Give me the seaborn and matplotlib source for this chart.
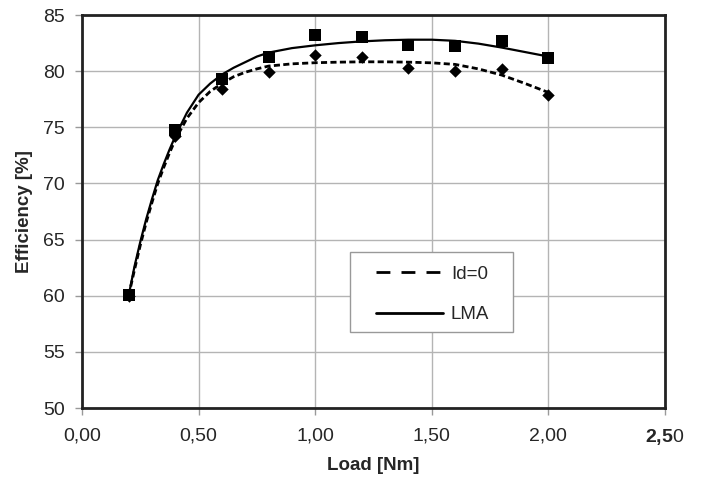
import numpy as np
import pandas as pd
import matplotlib
matplotlib.use("Agg")
import matplotlib.pyplot as plt
from matplotlib.patches import Rectangle
import seaborn as sns

# measured points
load_pts = [0.2, 0.4, 0.6, 0.8, 1.0, 1.2, 1.4, 1.6, 1.8, 2.0]
eff_lma = [60.1, 74.8, 79.3, 81.3, 83.2, 83.0, 82.3, 82.2, 82.7, 81.2]
eff_id0 = [60.0, 74.2, 78.4, 79.9, 81.4, 81.3, 80.3, 80.0, 80.2, 77.9]

# trend curves
curve_x = [0.200, 0.225, 0.250, 0.275, 0.300, 0.325, 0.350, 0.375, 0.400,
           0.450, 0.500, 0.550, 0.600, 0.650, 0.700, 0.750, 0.800, 0.900,
           1.000, 1.100, 1.200, 1.300, 1.400, 1.500, 1.600, 1.700, 1.800,
           1.900, 2.000]
curve_lma = [60.0, 62.6, 64.8, 66.8, 68.6, 70.3, 71.7, 73.0, 74.2,
             76.3, 77.9, 78.9, 79.7, 80.3, 80.8, 81.3, 81.65, 82.05,
             82.3, 82.5, 82.65, 82.75, 82.8, 82.8, 82.7, 82.45, 82.1,
             81.7, 81.3]
curve_id0 = [60.0, 62.3, 64.5, 66.5, 68.3, 70.0, 71.4, 72.7, 73.9,
             75.8, 77.2, 78.2, 78.9, 79.5, 79.9, 80.2, 80.45, 80.65,
             80.75, 80.8, 80.83, 80.83, 80.8, 80.74, 80.6, 80.2, 79.65,
             78.9, 78.1]

x_ticks = [0.0, 0.5, 1.0, 1.5, 2.0, 2.5]
x_ticklabels = ["0,00", "0,50", "1,00", "1,50", "2,00", r"$\mathbf{2{,}5}$0"]
y_ticks = [50, 55, 60, 65, 70, 75, 80, 85]

sns.set_style("whitegrid")
plt.rcParams["font.family"] = ["Liberation Sans", "DejaVu Sans"]
plt.rcParams["mathtext.fontset"] = "custom"
plt.rcParams["mathtext.rm"] = "Liberation Sans"
plt.rcParams["mathtext.bf"] = "Liberation Sans:bold"

fig = plt.figure(figsize=(7.02, 4.82), dpi=100)
ax = fig.add_axes([82 / 702, 1 - 408 / 482, (665 - 82) / 702, (408 - 15) / 482])

df_pts = pd.DataFrame({"load": load_pts, "lma": eff_lma, "id0": eff_id0})
df_cur = pd.DataFrame({"load": curve_x, "lma": curve_lma, "id0": curve_id0})

sns.lineplot(data=df_cur, x="load", y="id0", ax=ax, color="black",
             linestyle=(0, (2.2, 1.2)), linewidth=2.0, label="Id=0", zorder=3)
sns.lineplot(data=df_cur, x="load", y="lma", ax=ax, color="black",
             linewidth=1.6, label="LMA", zorder=3)
sns.scatterplot(data=df_pts, x="load", y="lma", ax=ax, marker="s", s=75,
                color="black", edgecolor="black", linewidth=0, zorder=4, legend=False)
sns.scatterplot(data=df_pts, x="load", y="id0", ax=ax, marker="D", s=40,
                color="black", edgecolor="black", linewidth=0, zorder=4, legend=False)

ax.set_xlim(0, 2.5)
ax.set_ylim(50, 85)
ax.set_xticks(x_ticks)
ax.set_xticklabels(x_ticklabels)
ax.set_yticks(y_ticks)
ax.tick_params(axis="both", labelsize=14, length=5, width=1, color="#999999",
               direction="out", bottom=True, left=True)
ax.tick_params(axis="x", pad=9)
ax.tick_params(axis="y", pad=7.5)
ax.grid(True, color="#b4b4b4", linewidth=1.0)
for sp in ax.spines.values():
    sp.set_color("#222222")
    sp.set_linewidth(2.0)
ax.set_xlabel("Load [Nm]", fontsize=13.5, fontweight="bold", labelpad=7)
ax.set_ylabel("Efficiency [%]", fontsize=13.5, fontweight="bold", labelpad=7)

# legend frame
ax.add_patch(Rectangle((0.4597, 0.1934), 0.2796, 0.2036, transform=ax.transAxes,
                       facecolor="white", edgecolor="#999999", linewidth=1.0,
                       zorder=4.5))
leg = ax.legend(loc="upper left", bbox_to_anchor=(0.504, 0.362), fontsize=13.5,
                frameon=False, handlelength=3.6, handletextpad=0.4,
                labelspacing=1.25, borderpad=0, borderaxespad=0)
leg.set_zorder(5)
for h in leg.get_lines():
    h.set_linewidth(2.0)
leg.get_lines()[0].set_dashes((5, 4))

fig.savefig("out.png", dpi=100)
